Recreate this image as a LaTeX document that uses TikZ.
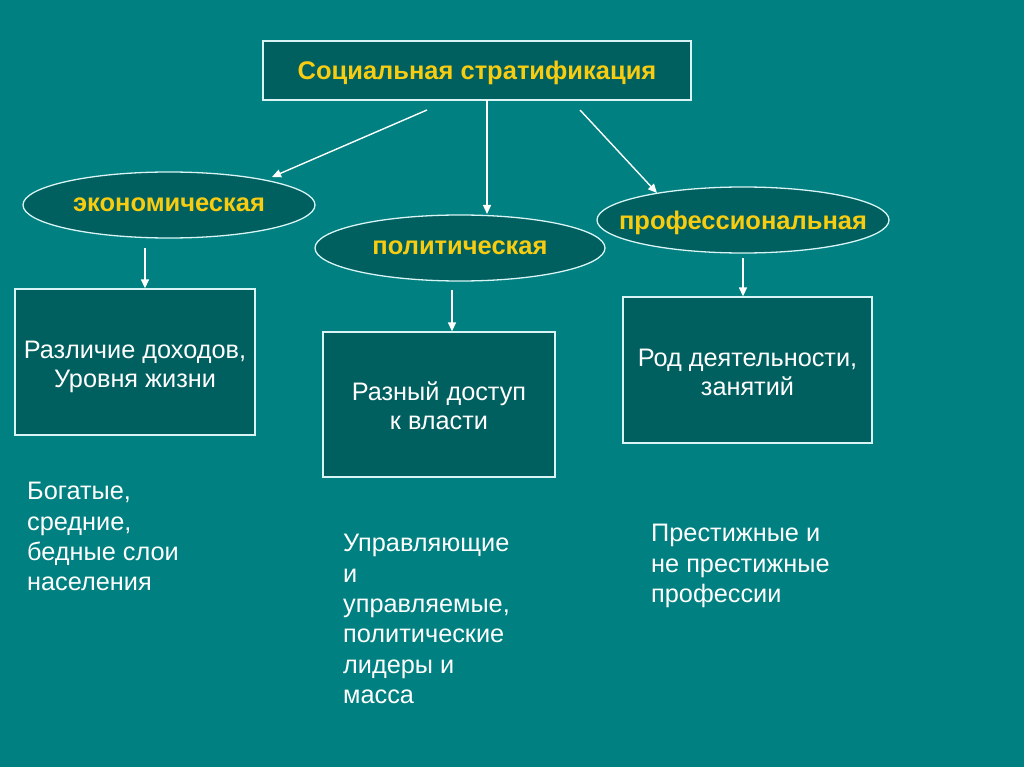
\documentclass[tikz,border=0pt]{standalone}
\usepackage{fontspec}
\setmainfont{Liberation Sans}
\usetikzlibrary{shapes.geometric,arrows.meta}
\definecolor{bgteal}{HTML}{008080}
\definecolor{boxteal}{HTML}{005F5F}
\definecolor{edge}{HTML}{D8F4F4}
\definecolor{ytext}{HTML}{F8CC10}
\begin{document}
\begin{tikzpicture}[x=1pt,y=-1pt,
  titlebox/.style={draw=edge,line width=1.3pt,fill=boxteal,minimum width=428pt,minimum height=59pt,inner sep=0pt,text depth=0pt,text=ytext,font=\fontsize{25.5}{30}\selectfont\bfseries},
  oval/.style={ellipse,draw=edge,line width=1.3pt,fill=boxteal,inner sep=0pt,text depth=0pt,minimum width=292pt,minimum height=66pt,text=ytext,font=\fontsize{25.5}{30}\selectfont\bfseries},
  infobox/.style={draw=edge,line width=1.3pt,fill=boxteal,inner sep=0pt},
  boxtext/.style={text=white,align=center,inner sep=0pt,font=\fontsize{25.3}{29.5}\selectfont},
  note/.style={text=white,align=left,anchor=north west,inner sep=0pt,font=\fontsize{25.3}{30.4}\selectfont},
  arr/.style={draw=white,line width=1.4pt,-{Triangle[length=9pt,width=8pt]}}
]
\useasboundingbox[fill=bgteal] (0,0) rectangle (1024,767);
\node[titlebox] (top) at (477,70.5) {Социальная стратификация};
\node[oval] (eco) at (169,205) {\makebox[0pt]{экономическая}};
\node[oval,minimum width=290pt] (pol) at (460,248) {\makebox[0pt]{политическая}};
\node[oval] (pro) at (743,220) {\makebox[0pt]{профессиональная}};
\node[infobox,minimum width=240pt,minimum height=146pt,label={[boxtext,yshift=-5pt]center:Различие доходов,\\Уровня жизни}] (b1) at (135,362) {};
\node[infobox,minimum width=232pt,minimum height=145pt,label={[boxtext,yshift=-1pt]center:Разный доступ\\к власти}] (b2) at (439,404.5) {};
\node[infobox,minimum width=249pt,minimum height=146pt,label={[boxtext,yshift=-2.5pt]center:Род деятельности,\\занятий}] (b3) at (747.5,370) {};
\node[note] (n1) at (27,482) {Богатые,\\средние,\\бедные слои\\населения};
\node[note] (n2) at (343,534) {Управляющие\\и\\управляемые,\\политические\\лидеры и\\масса};
\node[note] (n3) at (651,524) {Престижные и\\не престижные\\профессии};
\coordinate (a1s) at (427,110);
\coordinate (a1e) at (272,177);
\coordinate (a2s) at (487,100);
\coordinate (a2e) at (487,214);
\coordinate (a3s) at (580,110);
\coordinate (a3e) at (657,193);
\draw[arr] (a1s) -- (a1e);
\draw[arr] (a2s) -- (a2e);
\draw[arr] (a3s) -- (a3e);
\draw[arr] (145,248) -- (b1.north -| 145,0);
\draw[arr] (452,290) -- (b2.north -| 452,0);
\draw[arr] (743,258) -- (b3.north -| 743,0);
\end{tikzpicture}
\end{document}
